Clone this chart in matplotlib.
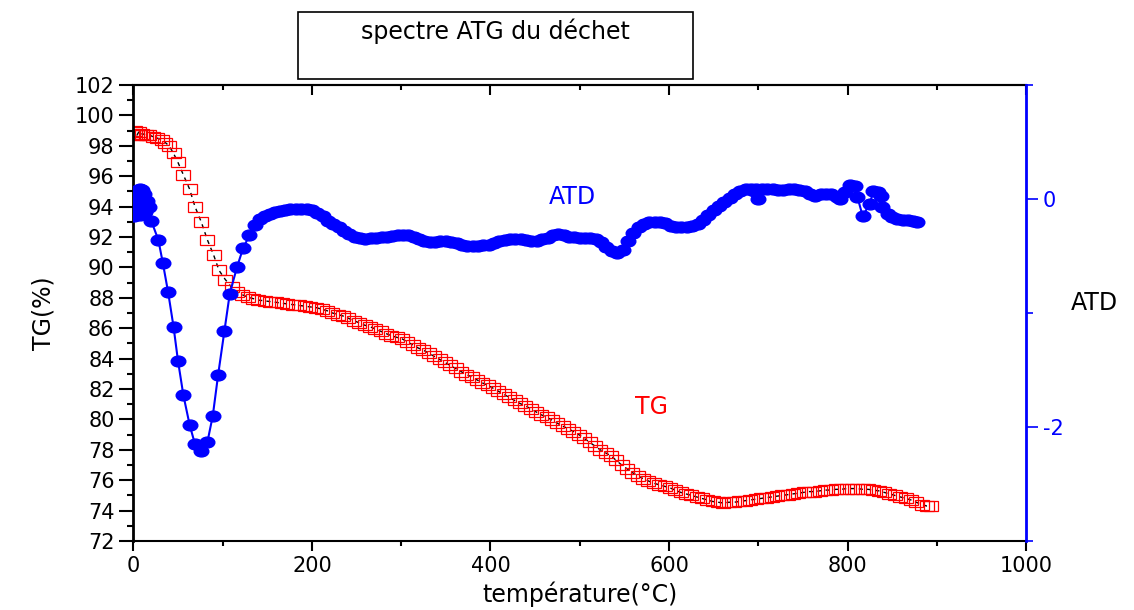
import matplotlib
matplotlib.use('Agg')
from matplotlib import pyplot as plt
from matplotlib.markers import MarkerStyle
from matplotlib.patches import Rectangle
from matplotlib.transforms import Affine2D

plt.rcParams['font.family'] = ['DejaVu Sans']

# TG curve (%) vs temperature (°C)
tg_temp = [0, 2, 4, 6, 8, 10, 14, 18, 22, 27, 32, 36, 40, 45, 50, 56, 63, 69, 76, 83,
           90, 96, 103, 110, 116, 122, 128, 134, 140, 147, 153, 160, 166, 172, 179, 185,
           192, 198, 205, 211, 217, 223, 229, 235, 241, 247, 253, 259, 265, 271, 277, 283,
           289, 295, 301, 307, 313, 319, 325, 331, 337, 343, 349, 355, 361, 367, 373, 379,
           385, 391, 397, 403, 409, 415, 421, 427, 433, 439, 445, 451, 457, 463, 469, 475,
           481, 487, 493, 499, 505, 511, 517, 523, 529, 535, 541, 547, 553, 559, 565, 571,
           577, 583, 589, 595, 601, 607, 613, 619, 625, 631, 637, 643, 649, 655, 661, 667,
           673, 679, 685, 691, 697, 703, 709, 715, 721, 727, 733, 739, 745, 751, 757, 763,
           769, 775, 781, 787, 793, 799, 805, 811, 817, 823, 829, 835, 841, 847, 853, 859,
           865, 871, 877, 883, 889, 893]
tg_val = [98.8, 99.0, 98.7, 98.9, 98.7, 98.8, 98.7, 98.7, 98.6, 98.5, 98.4, 98.2, 98.0,
          97.5, 96.9, 96.1, 95.15, 94.0, 93.0, 91.8, 90.8, 89.8, 89.2, 88.7, 88.4, 88.2,
          88.05, 87.95, 87.85, 87.8, 87.75, 87.7, 87.65, 87.6, 87.55, 87.5, 87.45, 87.4,
          87.35, 87.25, 87.15, 87.0, 86.9, 86.8, 86.65, 86.5, 86.35, 86.2, 86.1, 85.95,
          85.8, 85.65, 85.5, 85.4, 85.3, 85.1, 84.9, 84.7, 84.55, 84.35, 84.15, 83.95,
          83.75, 83.55, 83.35, 83.15, 82.95, 82.8, 82.6, 82.4, 82.25, 82.05, 81.85, 81.65,
          81.45, 81.25, 81.05, 80.9, 80.7, 80.5, 80.3, 80.15, 79.95, 79.75, 79.55, 79.4,
          79.2, 79.0, 78.75, 78.5, 78.25, 78.0, 77.8, 77.6, 77.3, 77.0, 76.75, 76.5, 76.3,
          76.1, 75.95, 75.8, 75.7, 75.6, 75.5, 75.35, 75.2, 75.1, 75.0, 74.9, 74.8, 74.7,
          74.6, 74.55, 74.5, 74.55, 74.55, 74.6, 74.65, 74.7, 74.75, 74.8, 74.85, 74.9,
          74.95, 75.0, 75.05, 75.1, 75.15, 75.2, 75.25, 75.25, 75.3, 75.35, 75.35, 75.4,
          75.4, 75.45, 75.45, 75.45, 75.4, 75.4, 75.35, 75.3, 75.2, 75.1, 75.0, 74.9, 74.8,
          74.7, 74.55, 74.4, 74.3, 74.3]

# ATD curve vs temperature (°C)
atd_temp = [0, 1, 2, 3, 5, 7, 10, 12, 15, 17, 13, 8, 20, 28, 33, 39, 45, 50, 56, 63, 69,
            76, 83, 89, 95, 102, 108, 116, 123, 130, 136, 142, 148, 153, 159, 164, 170,
            176, 182, 188, 194, 200, 206, 212, 218, 224, 230, 236, 242, 248, 254, 260, 266,
            272, 278, 284, 290, 296, 302, 308, 314, 320, 326, 332, 338, 344, 350, 356, 362,
            368, 374, 380, 386, 392, 398, 404, 410, 416, 422, 428, 434, 440, 446, 452, 458,
            464, 470, 476, 482, 488, 494, 500, 506, 512, 518, 524, 530, 536, 542, 548, 554,
            560, 566, 572, 578, 584, 590, 596, 602, 608, 614, 620, 626, 632, 638, 644, 650,
            656, 662, 668, 674, 680, 700, 686, 692, 698, 704, 710, 716, 722, 728, 734, 740,
            746, 752, 758, 764, 770, 776, 782, 788, 792, 797, 803, 808, 811, 817, 825, 829,
            834, 837, 839, 845, 850, 856, 862, 868, 873, 878]
atd_val = [-0.10, -0.15, -0.06, 0.03, 0.08, 0.09, 0.08, 0.04, -0.02, -0.07, -0.11, -0.14,
           -0.19, -0.36, -0.56, -0.82, -1.12, -1.42, -1.72, -1.98, -2.15, -2.21, -2.13,
           -1.90, -1.54, -1.16, -0.83, -0.60, -0.43, -0.32, -0.23, -0.175, -0.15, -0.13,
           -0.115, -0.105, -0.095, -0.09, -0.085, -0.085, -0.09, -0.10, -0.12, -0.15,
           -0.19, -0.22, -0.25, -0.28, -0.31, -0.33, -0.345, -0.35, -0.345, -0.34, -0.335,
           -0.33, -0.325, -0.32, -0.315, -0.315, -0.33, -0.35, -0.37, -0.38, -0.375,
           -0.37, -0.365, -0.375, -0.39, -0.405, -0.415, -0.415, -0.41, -0.405, -0.40,
           -0.39, -0.37, -0.36, -0.355, -0.35, -0.355, -0.36, -0.365, -0.365, -0.355,
           -0.34, -0.32, -0.31, -0.32, -0.33, -0.335, -0.34, -0.34, -0.345, -0.355, -0.38,
           -0.42, -0.455, -0.47, -0.445, -0.37, -0.30, -0.25, -0.22, -0.205, -0.20, -0.20,
           -0.215, -0.235, -0.245, -0.25, -0.245, -0.235, -0.22, -0.18, -0.14, -0.10,
           -0.06, -0.025, 0.01, 0.045, 0.07, 0.0, 0.085, 0.09, 0.09, 0.09, 0.09, 0.085,
           0.08, 0.08, 0.085, 0.085, 0.08, 0.07, 0.045, 0.03, 0.04, 0.045, 0.04, 0.02, 0.0,
           0.06, 0.12, 0.11, 0.02, -0.15, -0.04, 0.07, 0.06, 0.03, -0.07, -0.13, -0.16,
           -0.175, -0.18, -0.185, -0.19, -0.20]

x_ticks = [0, 200, 400, 600, 800, 1000]
tg_ticks = list(range(72, 103, 2))
atd_ticks = [0, -2]
atd_minor = [1, -1, -3]

blue = '#0000ff'
red = '#ff0000'

fig = plt.figure(figsize=(11.34, 6.10), dpi=100)
ax = fig.add_axes([0.1176, 0.1131, 0.7872, 0.7476])

sq = MarkerStyle('s', fillstyle='none', transform=Affine2D().scale(1.45, 1.0))
ax.plot(tg_temp, tg_val, color='k', lw=1, ls=(0, (3, 3)), zorder=1)
ax.plot(tg_temp, tg_val, ls='none', marker=sq, ms=7.2, mec=red, mew=0.9, zorder=2)

ax.set_xlim(0, 1000)
ax.set_ylim(72, 102)
ax.set_xticks(x_ticks)
ax.set_xticks([100, 300, 500, 700, 900], minor=True)
ax.set_yticks(tg_ticks)
ax.set_yticks(list(range(73, 102, 2)), minor=True)
ax.tick_params(axis='both', which='major', labelsize=15, width=1.5, color='k')
ax.tick_params(axis='y', which='major', length=10, direction='out')
ax.tick_params(axis='y', which='minor', length=4.5, width=1.5, direction='out')
ax.tick_params(axis='x', which='major', length=7, direction='out', pad=4)
ax.tick_params(axis='x', which='minor', length=3.5, width=1.5, direction='out')
for s in ['bottom', 'top']:
    ax.spines[s].set_linewidth(1.5)
ax.spines['left'].set_linewidth(2)
ax.spines['right'].set_visible(False)

top = ax.secondary_xaxis('top')
top.set_xticks(x_ticks)
top.set_xticks([100, 300, 500, 700, 900], minor=True)
top.tick_params(which='major', direction='in', length=7, width=1.5, labeltop=False)
top.tick_params(which='minor', direction='in', length=3.5, width=1.5)
top.spines['top'].set_linewidth(1.5)

ax.set_xlabel('température(°C)', fontsize=17, labelpad=4)
ax.set_ylabel('TG(%)', fontsize=17, labelpad=14)

ax2 = ax.twinx()
ell = MarkerStyle('o', transform=Affine2D().scale(1.35, 1.0))
ax2.plot(atd_temp, atd_val, color=blue, lw=1.5, marker=ell, ms=7.8, mec=blue, mfc=blue)
ax2.set_ylim(-3, 1)
ax2.set_yticks(atd_ticks)
ax2.set_yticks(atd_minor, minor=True)
ax2.set_yticklabels(['0', '-2'])
ax2.tick_params(axis='y', which='major', length=8.5, width=1.2, color=blue,
                labelcolor=blue, labelsize=15)
ax2.tick_params(axis='y', which='minor', length=5, width=1.2, color=blue)
ax2.spines['right'].set_color(blue)
ax2.spines['right'].set_linewidth(2)
for s in ['left', 'top', 'bottom']:
    ax2.spines[s].set_visible(False)

ax2.text(492, 0.02, 'ATD', color=blue, fontsize=17, ha='center', va='center')
ax.text(580, 80.8, 'TG', color=red, fontsize=17, ha='center', va='center')
fig.text(0.965, 0.503, 'ATD', fontsize=17, ha='center', va='center')

fig.patches.append(Rectangle((298 / 1134, 1 - 79 / 610), 395 / 1134, 67 / 610,
                             transform=fig.transFigure, fill=False, ec='k', lw=1.2))
fig.text(495 / 1134, 1 - 31 / 610, 'spectre ATG du déchet', fontsize=17,
         ha='center', va='center')

fig.savefig('out.png', dpi=100)
